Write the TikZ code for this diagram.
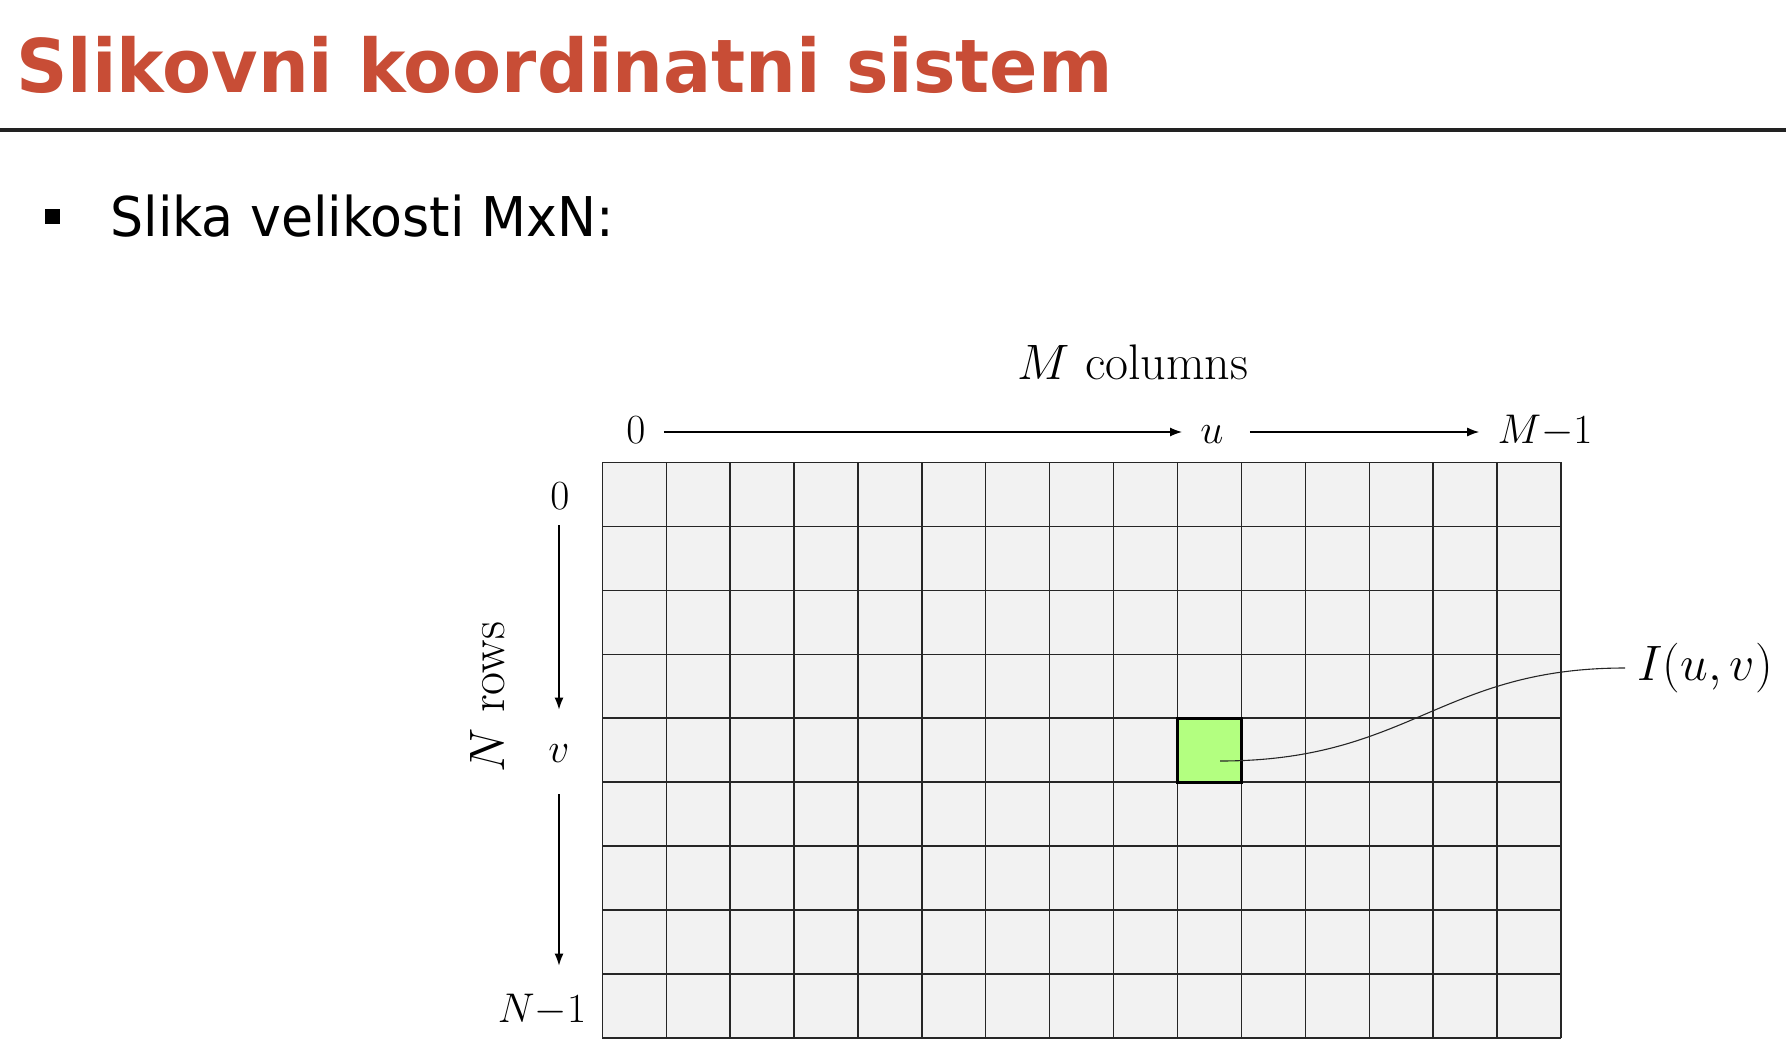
\documentclass[tikz,border=0pt]{standalone}
\usepackage{fontspec}
\newfontfamily\dejavutitle[FakeStretch=0.965]{DejaVu Sans}
\newfontfamily\dejavusub[FakeStretch=0.952]{DejaVu Sans}
\usetikzlibrary{arrows.meta}
\definecolor{titlered}{RGB}{200,77,54}
\definecolor{cellgray}{RGB}{242,242,242}
\definecolor{pixgreen}{RGB}{179,255,128}
\definecolor{rulecol}{RGB}{34,34,34}
\tikzset{
  lbl/.style={font=\fontsize{22}{26}\selectfont, inner sep=0pt},
  biglbl/.style={font=\fontsize{25}{30}\selectfont, inner sep=0pt},
  pixlbl/.style={font=\fontsize{24}{29}\selectfont, inner sep=0pt},
  hlbl/.style={lbl, anchor=base, text height=15pt, text depth=4pt, inner xsep=9pt, inner ysep=0pt},
  arr/.style={-{Latex[length=6pt,width=4.5pt]}, line width=0.65pt, black},
  gridline/.style={line width=0.7pt, black!85},
  leader/.style={line width=0.55pt, black!85},
}
\begin{document}
\begin{tikzpicture}[x=0.5pt,y=-0.5pt]
\useasboundingbox (0,0) rectangle (1786,1064);
% title and rule
\node[anchor=base west, inner sep=0pt, text=titlered, font=\dejavutitle\bfseries\fontsize{37}{44}\selectfont] (title) at (16,93) {Slikovni koordinatni sistem};
\draw[rulecol, line width=2pt] (0,130.3) -- (1786,130.3);
% bullet line
\node[fill=black, inner sep=0pt, minimum size=7.5pt] (bullet) at (52.5,216.5) {};
\node[anchor=base west, inner sep=0pt, font=\dejavusub\fontsize{27.4}{32}\selectfont] (sub) at (110,236) {Slika velikosti MxN:};
% grid
\fill[cellgray] (602.3,462.3) rectangle (1561,1038);
\foreach \i in {0,...,15} \draw[gridline] (602.3+\i*63.913,462.3) -- ++(0,575.7);
\foreach \j in {0,...,9} \draw[gridline] (602.3,462.3+\j*63.967) -- ++(958.7,0);
\node[draw=black, line width=1.4pt, fill=pixgreen, inner sep=0pt, minimum width=31.96pt, minimum height=31.98pt] (pix) at (1209.4,750.2) {};
% column labels
\node[biglbl, anchor=base] (mcol) at (1133,379) {$M$ columns};
\node[hlbl] (c0) at (636,443) {$0$};
\node[hlbl] (u) at (1212,443) {$u$};
\node[hlbl] (cM) at (1545,443) {$M{-}1$};
\draw[arr] (c0) -- (u);
\draw[arr, shorten <=4pt] (u) -- (cM);
% row labels
\node[lbl, anchor=base, text height=15pt, text depth=0pt, inner ysep=8pt] (r0) at (560,509) {$0$};
\node[lbl, anchor=base, text height=10pt, text depth=0pt, inner ysep=16pt] (v) at (559,762) {$v$};
\node[lbl, anchor=base, text height=15pt, text depth=0pt, inner ysep=13pt] (rN) at (542,1022) {$N{-}1$};
\draw[arr] (v.north |- r0.south) -- (v.north);
\draw[arr] (v.south) -- (v.south |- rN.north);
\node[biglbl, rotate=90] (nrows) at (487.5,697) {$N$ rows};
% pixel label
\node[pixlbl, anchor=west, text height=17.5pt, text depth=5.5pt, inner xsep=6pt] (iuv) at (1625,668) {$I(u,v)$};
\coordinate (cs) at (1220,761);
\draw[leader] (cs) .. controls (1410,761) and (1440,668) .. (iuv.west);
\end{tikzpicture}
\end{document}
